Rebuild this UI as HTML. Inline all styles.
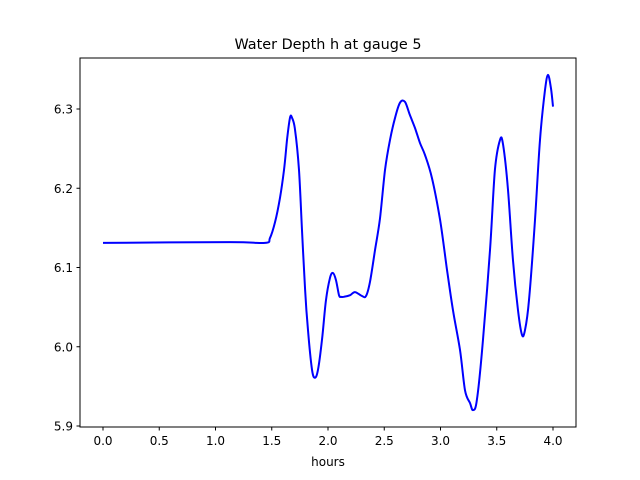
<!DOCTYPE html>
<html><head><meta charset="utf-8"><style>
body{margin:0;background:#fff}
svg{display:block;font-family:"DejaVu Sans","Liberation Sans",sans-serif}
</style></head><body>
<svg id="chart" width="640" height="480">
<rect width="640" height="480" fill="#fff"/>
<text x="328" y="49" text-anchor="middle" font-size="14.4">Water Depth h at gauge 5</text>
<g id="xticks"></g>
<g id="yticks"></g>
<text x="328" y="466" text-anchor="middle" font-size="12">hours</text>
<path id="line" fill="none" stroke="#0000ff" stroke-width="2" stroke-linejoin="round"/>
<rect x="80" y="58" width="496" height="369" fill="none" stroke="#000" stroke-width="1"/>
</svg>
<script>
const hours=[0,1.129,1.44,1.484,1.529,1.573,1.609,1.636,1.662,1.68,1.707,1.742,1.769,1.796,1.822,1.858,1.884,1.911,1.947,1.982,2.018,2.044,2.071,2.098,2.116,2.142,2.196,2.24,2.302,2.338,2.373,2.418,2.462,2.507,2.551,2.596,2.64,2.684,2.729,2.773,2.818,2.862,2.924,2.996,3.058,3.111,3.173,3.218,3.262,3.289,3.324,3.378,3.44,3.484,3.529,3.556,3.6,3.644,3.689,3.724,3.751,3.787,3.84,3.884,3.929,3.956,3.982,4.0];
const depth=[6.131,6.132,6.131,6.137,6.157,6.188,6.223,6.261,6.289,6.289,6.274,6.223,6.147,6.072,6.021,5.971,5.961,5.971,6.009,6.059,6.087,6.093,6.084,6.065,6.063,6.063,6.065,6.069,6.064,6.064,6.082,6.122,6.162,6.223,6.261,6.289,6.308,6.309,6.292,6.276,6.257,6.242,6.213,6.16,6.097,6.046,5.996,5.945,5.929,5.92,5.933,6.009,6.122,6.223,6.261,6.255,6.198,6.109,6.046,6.015,6.021,6.059,6.16,6.261,6.324,6.343,6.326,6.303];
const xTicks=[0,0.5,1,1.5,2,2.5,3,3.5,4];
const xTickLabels=["0.0","0.5","1.0","1.5","2.0","2.5","3.0","3.5","4.0"];
const yTicks=[5.9,6.0,6.1,6.2,6.3];
const yTickLabels=["5.9","6.0","6.1","6.2","6.3"];
const X=v=>103+(v-0)*112.5;
const Y=v=>109+(6.3-v)*792.5;
const NS="http://www.w3.org/2000/svg";
const xg=document.getElementById('xticks'), yg=document.getElementById('yticks');
xTicks.forEach((t,i)=>{
  const l=document.createElementNS(NS,'line');
  
  
  l.setAttribute('x1',X(t));l.setAttribute('x2',X(t));l.setAttribute('y1',427);l.setAttribute('y2',430.5);l.setAttribute('stroke','#000');
  xg.appendChild(l);
  const tx=document.createElementNS(NS,'text');
  
  
  tx.setAttribute('x',X(t));tx.setAttribute('y',445);tx.setAttribute('text-anchor','middle');tx.setAttribute('font-size','12');
  tx.textContent=xTickLabels[i];xg.appendChild(tx);
});
yTicks.forEach((t,i)=>{
  const l=document.createElementNS(NS,'line');
  
  
  l.setAttribute('x1',76.5);l.setAttribute('x2',80);l.setAttribute('y1',Y(t));l.setAttribute('y2',Y(t));l.setAttribute('stroke','#000');
  yg.appendChild(l);
  const tx=document.createElementNS(NS,'text');
  
  
  tx.setAttribute('x',73);tx.setAttribute('y',Y(t)+4.5);tx.setAttribute('text-anchor','end');tx.setAttribute('font-size','12');
  tx.textContent=yTickLabels[i];yg.appendChild(tx);
});
const pts=hours.map((h,i)=>[X(h),Y(depth[i])]);
let d='M'+pts[0][0].toFixed(1)+','+pts[0][1].toFixed(1);
for(let i=0;i<pts.length-1;i++){
  const p0=pts[Math.max(i-1,0)],p1=pts[i],p2=pts[i+1],p3=pts[Math.min(i+2,pts.length-1)];
  const c1=[p1[0]+(p2[0]-p0[0])/6,p1[1]+(p2[1]-p0[1])/6];
  const c2=[p2[0]-(p3[0]-p1[0])/6,p2[1]-(p3[1]-p1[1])/6];
  d+=' C'+c1[0].toFixed(1)+','+c1[1].toFixed(1)+' '+c2[0].toFixed(1)+','+c2[1].toFixed(1)+' '+p2[0].toFixed(1)+','+p2[1].toFixed(1);
}
document.getElementById('line').setAttribute('d',d);
</script>
</body></html>
